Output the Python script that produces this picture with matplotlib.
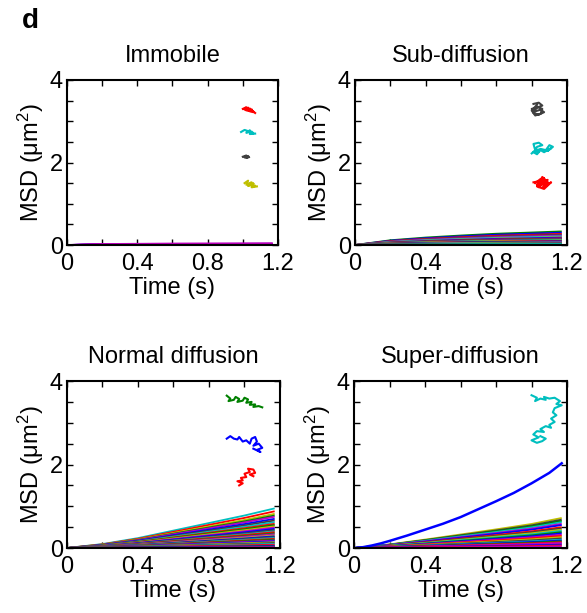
import numpy as np
import matplotlib

matplotlib.use("Agg")
import matplotlib.pyplot as plt

plt.rcParams["font.family"] = ["Liberation Sans", "DejaVu Sans"]
plt.rcParams["mathtext.fontset"] = "custom"
plt.rcParams["mathtext.rm"] = "Liberation Sans"
plt.rcParams["mathtext.it"] = "Liberation Sans:italic"

# MATLAB-style colour codes
CODES = {
    "b": (0, 0, 1),
    "g": (0, 0.5, 0),
    "r": (1, 0, 0),
    "c": (0, 0.75, 0.75),
    "m": (0.75, 0, 0.75),
    "y": (0.75, 0.75, 0),
    "k": (0.25, 0.25, 0.25),
}

TITLES = ["Immobile", "Sub-diffusion", "Normal diffusion", "Super-diffusion"]

# time samples of the MSD curves (s)
msd_time = [0, 0.2, 0.4, 0.6, 0.8, 1.0, 1.17]

# MSD shape (fraction of final value) per class
immobile_shape = [0, 0.6, 0.75, 0.85, 0.9, 0.95, 1.0]
sub_shape = [0, 0.35, 0.55, 0.7, 0.83, 0.92, 1.0]
normal_shape = [0, 0.1, 0.25, 0.44, 0.63, 0.82, 1.0]
super_shape = [0, 0.12, 0.28, 0.45, 0.62, 0.8, 1.0]

# final MSD values (um^2) of each curve
immobile_end = [0.005, 0.008, 0.01, 0.012, 0.015, 0.018, 0.02, 0.025, 0.028, 0.03, 0.035, 0.04]
sub_end = [0.33, 0.30, 0.27, 0.25, 0.23, 0.21, 0.19, 0.18, 0.16, 0.15, 0.14, 0.13, 0.12,
           0.11, 0.10, 0.09, 0.08, 0.07, 0.06, 0.05, 0.04, 0.035, 0.03, 0.025, 0.02, 0.015]
normal_end = [0.95, 0.88, 0.82, 0.78, 0.75, 0.70, 0.66, 0.62, 0.58, 0.55, 0.52, 0.49,
              0.46, 0.43, 0.40, 0.38, 0.35, 0.33, 0.30, 0.28, 0.26, 0.24, 0.22, 0.20,
              0.18, 0.16, 0.14, 0.12, 0.10, 0.08, 0.06, 0.05, 0.04, 0.03, 0.02]
super_end = [0.72, 0.68, 0.65, 0.62, 0.58, 0.55, 0.50, 0.47, 0.44, 0.41, 0.38, 0.35,
             0.32, 0.29, 0.26, 0.23, 0.20, 0.18, 0.16, 0.14, 0.12, 0.10, 0.08, 0.06, 0.04]

immobile_colors = "gcrkybmbmbmm"
sub_colors = "gbrkmcybrgmkcyrbgmcykbrgcc"
normal_colors = "crygmbkcrgymbkcrgmybkcrgmbykcrmgbkm"
super_colors = "ykgcmbrkycgbmrykcbgrmmbrm"

# the one strongly super-diffusive track
super_outlier_time = [0, 0.05, 0.1, 0.15, 0.2, 0.3, 0.4, 0.5, 0.6, 0.7, 0.8, 0.9, 1.0, 1.1, 1.17]
super_outlier_msd = [0, 0.02, 0.06, 0.11, 0.17, 0.30, 0.44, 0.58, 0.74, 0.93, 1.12, 1.32, 1.55, 1.80, 2.03]

# example trajectories drawn inside each panel (panel data coordinates)
immobile_tracks = [
    ("r", [1.00, 1.02, 1.01, 1.03, 1.02, 1.04, 1.03, 1.05, 1.04, 1.06, 1.05, 1.07],
          [3.30, 3.34, 3.28, 3.33, 3.26, 3.31, 3.25, 3.29, 3.24, 3.22, 3.27, 3.20]),
    ("c", [0.99, 1.01, 1.03, 1.02, 1.04, 1.03, 1.05, 1.06, 1.04, 1.07],
          [2.74, 2.79, 2.76, 2.72, 2.78, 2.73, 2.75, 2.71, 2.69, 2.70]),
    ("k", [1.00, 1.02, 1.01, 1.03, 1.02, 1.035],
          [2.14, 2.17, 2.12, 2.16, 2.11, 2.13]),
    ("y", [1.01, 1.03, 1.02, 1.05, 1.03, 1.06, 1.04, 1.07, 1.05, 1.08],
          [1.50, 1.56, 1.46, 1.52, 1.43, 1.49, 1.45, 1.44, 1.40, 1.42]),
]
sub_tracks = [
    ("k", [1.01, 1.04, 1.06, 1.03, 1.00, 1.02, 1.05, 1.07, 1.04, 1.01, 1.03, 1.06, 1.05, 1.02, 1.00, 1.03],
          [3.42, 3.45, 3.38, 3.33, 3.30, 3.24, 3.28, 3.22, 3.16, 3.20, 3.35, 3.30, 3.18, 3.14, 3.26, 3.40]),
    ("c", [1.00, 1.02, 1.01, 1.04, 1.06, 1.03, 1.02, 1.05, 1.08, 1.10, 1.12, 1.09, 1.11, 1.07, 1.05, 1.03, 1.01, 1.04],
          [2.22, 2.30, 2.45, 2.48, 2.42, 2.38, 2.28, 2.33, 2.30, 2.42, 2.38, 2.28, 2.35, 2.25, 2.30, 2.20, 2.25, 2.27]),
    ("r", [1.02, 1.05, 1.03, 1.07, 1.04, 1.09, 1.06, 1.11, 1.08, 1.05, 1.10, 1.07, 1.03, 1.06, 1.09, 1.04, 1.07, 1.01],
          [1.50, 1.60, 1.45, 1.62, 1.40, 1.58, 1.38, 1.52, 1.44, 1.55, 1.48, 1.36, 1.42, 1.65, 1.53, 1.47, 1.57, 1.52]),
]
normal_tracks = [
    ("g", [0.90, 0.92, 0.91, 0.94, 0.95, 0.97, 0.96, 0.99, 1.00, 1.02, 1.01, 1.04, 1.03, 1.06, 1.05, 1.08, 1.10],
          [3.65, 3.58, 3.52, 3.55, 3.62, 3.57, 3.50, 3.53, 3.60, 3.56, 3.48, 3.50, 3.43, 3.44, 3.38, 3.40, 3.37]),
    ("b", [0.90, 0.92, 0.94, 0.96, 0.97, 0.99, 1.01, 1.03, 1.04, 1.06, 1.07, 1.05, 1.08, 1.10, 1.07, 1.09, 1.05],
          [2.62, 2.68, 2.62, 2.60, 2.66, 2.55, 2.58, 2.50, 2.62, 2.66, 2.55, 2.45, 2.50, 2.40, 2.35, 2.30, 2.38]),
    ("r", [0.97, 0.99, 0.96, 0.99, 0.98, 1.01, 1.00, 1.03, 1.02, 1.05, 1.06, 1.03, 1.05],
          [1.50, 1.55, 1.60, 1.62, 1.68, 1.70, 1.78, 1.82, 1.90, 1.88, 1.80, 1.76, 1.72]),
]
super_tracks = [
    ("c", [1.00, 1.03, 1.02, 1.05, 1.08, 1.07, 1.10, 1.13, 1.16, 1.14, 1.17, 1.13, 1.12, 1.14, 1.11,
           1.13, 1.10, 1.11, 1.08, 1.05, 1.07, 1.03, 1.01, 1.04, 1.00, 1.03, 1.06, 1.08, 1.05],
          [3.66, 3.60, 3.52, 3.58, 3.55, 3.62, 3.58, 3.60, 3.52, 3.45, 3.42, 3.35, 3.25, 3.18, 3.10,
           3.02, 2.95, 2.88, 2.92, 2.85, 2.78, 2.80, 2.72, 2.65, 2.58, 2.52, 2.56, 2.62, 2.68]),
]

panel_curves = [
    (immobile_end, immobile_shape, immobile_colors),
    (sub_end, sub_shape, sub_colors),
    (normal_end, normal_shape, normal_colors),
    (super_end, super_shape, super_colors),
]
panel_tracks = [immobile_tracks, sub_tracks, normal_tracks, super_tracks]

# axes rectangles in figure fractions (left, bottom, width, height)
AX_RECTS = [
    (0.1141, 0.6003, 0.3595, 0.2692),
    (0.6048, 0.6003, 0.3612, 0.2692),
    (0.1141, 0.1060, 0.3629, 0.2724),
    (0.6031, 0.1060, 0.3629, 0.2724),
]

FS = 17

fig = plt.figure(figsize=(5.87, 6.13), dpi=100)
for i, rect in enumerate(AX_RECTS):
    ax = fig.add_axes(rect)
    ends, shape, codes = panel_curves[i]
    for j, end in enumerate(ends):
        color = CODES[codes[j % len(codes)]]
        ax.plot(msd_time, [end * s for s in shape], color=color, lw=1.3, solid_capstyle="butt")
    if i == 3:
        ax.plot(super_outlier_time, super_outlier_msd, color=CODES["b"], lw=1.8)
    for code, xs, ys in panel_tracks[i]:
        ax.plot(xs, ys, color=CODES[code], lw=1.5)

    ax.set_xlim(0, 1.2)
    ax.set_ylim(0, 4)
    ax.set_xticks(np.arange(0, 1.21, 0.2))
    ax.set_xticklabels(["0", "", "0.4", "", "0.8", "", "1.2"])
    ax.set_yticks(np.arange(0, 4.01, 0.5))
    ax.set_yticklabels(["0", "", "", "", "2", "", "", "", "4"])
    ax.tick_params(direction="in", top=True, right=True, length=4, width=1,
                   labelsize=FS, pad=3)
    ax.tick_params(axis="x", pad=6)
    for spine in ax.spines.values():
        spine.set_linewidth(1.5)
    ax.set_title(TITLES[i], fontsize=FS, pad=13)
    ax.set_xlabel("Time (s)", fontsize=FS, labelpad=1)
    ax.set_ylabel("MSD (μm$^2$)", fontsize=FS, labelpad=3)

fig.text(0.038, 0.955, "d", fontsize=20, fontweight="bold", ha="left", va="baseline")

fig.savefig("out.png", dpi=100)
